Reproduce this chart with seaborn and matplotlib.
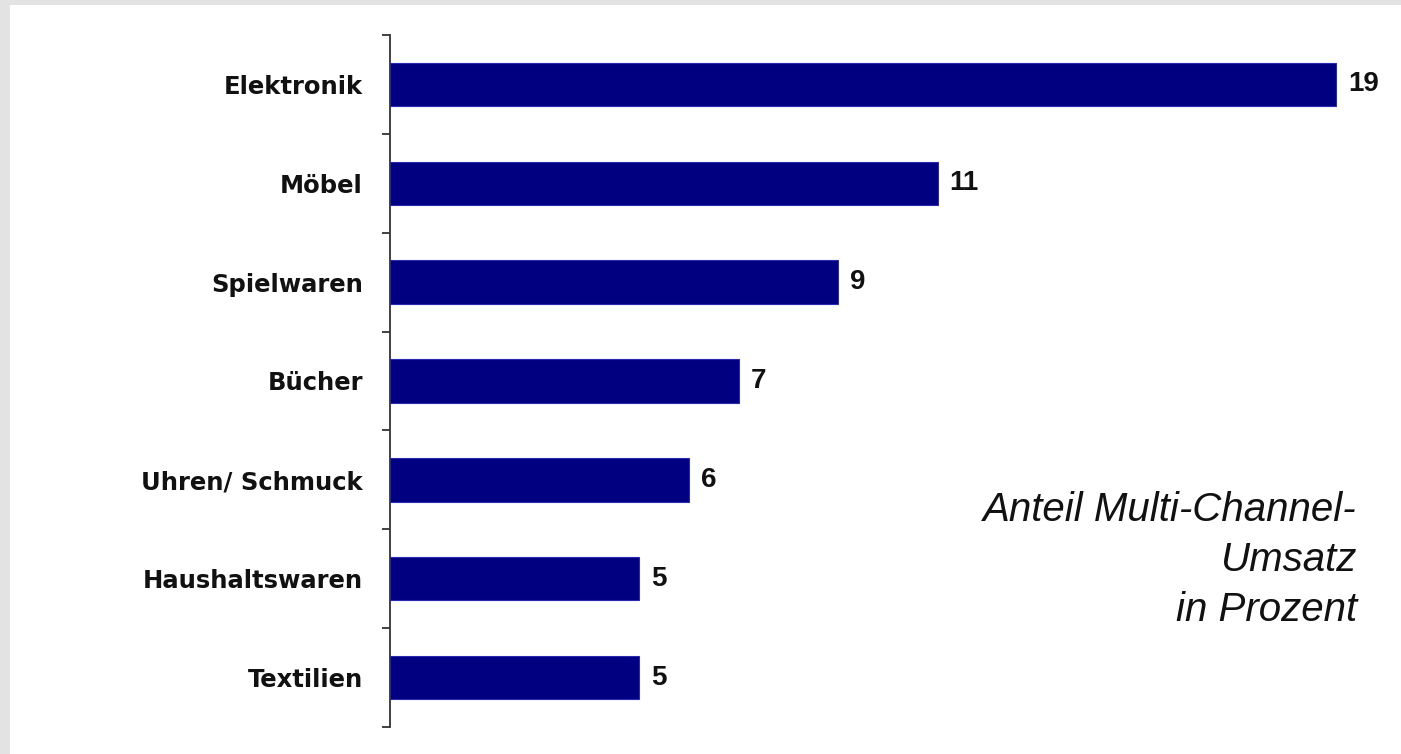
import numpy as np
import pandas as pd
import matplotlib
matplotlib.use("Agg")
import matplotlib.pyplot as plt
from matplotlib.patches import Rectangle
from matplotlib.ticker import FixedLocator
import seaborn as sns

categories = ["Elektronik", "Möbel", "Spielwaren", "Bücher", "Uhren/ Schmuck", "Haushaltswaren", "Textilien"]
values = [19, 11, 9, 7, 6, 5, 5]
note_lines = ["Anteil Multi-Channel-", "Umsatz", "in Prozent"]

sns.set_theme(style="ticks")
plt.rcParams["font.family"] = ["DejaVu Sans"]

df = pd.DataFrame({"Kategorie": categories, "Wert": values})

fig = plt.figure(figsize=(14.01, 7.54), dpi=100)
fig.patch.set_facecolor("#e3e3e3")
fig.add_artist(Rectangle((10 / 1401, 0), 1, 1 - 5 / 754, transform=fig.transFigure,
                         facecolor="white", edgecolor="none", zorder=0))

ax = fig.add_axes([390 / 1401, 27 / 754, 996 / 1401, 692 / 754])
ax.set_facecolor("none")

sns.barplot(data=df, x="Wert", y="Kategorie", orient="h", color="#000080",
            width=0.44, edgecolor="#2a2ab0", linewidth=0.8, saturation=1, ax=ax)

ax.set_xlim(0, 20)
ax.set_ylim(len(categories) - 0.5, -0.5)
ax.set_xlabel("")
ax.set_ylabel("")
ax.set_xticks([])

ax.set_yticks(np.arange(len(categories)))
ax.set_yticklabels(categories, fontsize=17.5, fontweight="bold", color="#111111")
ax.tick_params(axis="y", which="major", length=0, pad=19.5)
ax.yaxis.set_minor_locator(FixedLocator(np.arange(-0.5, len(categories), 1.0)))
ax.tick_params(axis="y", which="minor", length=6, width=1.3, color="#333333", direction="out")

for s in ["top", "right", "bottom"]:
    ax.spines[s].set_visible(False)
ax.spines["left"].set_color("#333333")
ax.spines["left"].set_linewidth(1.3)

for i, v in enumerate(values):
    ax.annotate(f"{v}", xy=(v, i), xytext=(8.5, 0), textcoords="offset points",
                va="center", ha="left", fontsize=20, fontweight="bold",
                family="Liberation Sans", color="#111111")

fig.text(1357 / 1401, 1 - 491 / 754, "\n".join(note_lines), ha="right", va="top",
         fontsize=29, style="italic", family="Liberation Sans", color="#111111",
         linespacing=1.4, transform=fig.transFigure)

fig.savefig("out.png", dpi=100, facecolor=fig.get_facecolor())
